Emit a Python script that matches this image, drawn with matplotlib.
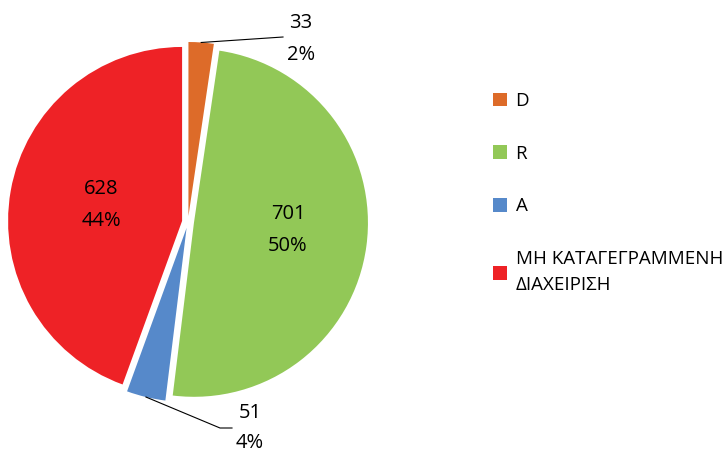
import matplotlib
matplotlib.use("Agg")
import matplotlib.pyplot as plt
import numpy as np

categories = ["D", "R", "A", "ΜΗ ΚΑΤΑΓΕΓΡΑΜΜΕΝΗ\nΔΙΑΧΕΙΡΙΣΗ"]
values = [33, 701, 51, 628]
colors = ["#DD6B29", "#92C857", "#5689CA", "#EE2226"]

plt.rcParams['font.family'] = ['Open Sans', 'DejaVu Sans']

W, H = 723, 454
fig = plt.figure(figsize=(W / 100, H / 100), dpi=100)
ax = fig.add_axes([0, 0, 1, 1])

cx, cy, R = 188, H - 222, 174
wedges, _ = ax.pie(values, colors=colors, startangle=90, counterclock=False,
                   explode=[6] * 4, center=(cx, cy), radius=R,
                   wedgeprops=dict(linewidth=0))
ax.set_xlim(0, W)
ax.set_ylim(0, H)
ax.set_aspect('equal')
ax.axis('off')

total = sum(values)
pct = [f"{round(v / total * 100)}%" for v in values]
fs = 14.5
ls = 1.75

def arc_mid(w):
    a = np.deg2rad((w.theta1 + w.theta2) / 2)
    c = w.center
    return c[0] + w.r * np.cos(a), c[1] + w.r * np.sin(a)

# inside labels
ax.text(288, H - 230, f"{values[1]}\n{pct[1]}", ha='center', va='center',
        fontsize=fs, linespacing=ls)
ax.text(101, H - 205, f"{values[3]}\n{pct[3]}", ha='center', va='center',
        fontsize=fs, linespacing=ls)

# outside labels with leader lines
x0, y0 = arc_mid(wedges[0])
ax.plot([x0, 283], [y0, H - 37], color='black', lw=0.8)
ax.text(301, H - 39, f"{values[0]}\n{pct[0]}", ha='center', va='center',
        fontsize=fs, linespacing=ls)

x2, y2 = arc_mid(wedges[2])
ax.plot([x2, 220, 232], [y2, H - 428, H - 428], color='black', lw=0.8)
ax.text(250, H - 428, f"{values[2]}\n{pct[2]}", ha='center', va='center',
        fontsize=fs, linespacing=1.7)

leg = ax.legend(wedges, categories, loc='upper left', bbox_to_anchor=(493 / W, 1 - 92 / H),
                bbox_transform=fig.transFigure, frameon=False, fontsize=13.5,
                handlelength=0.75, handleheight=0.75, handletextpad=0.45,
                labelspacing=1.85, borderpad=0, borderaxespad=0)
for t in leg.get_texts():
    t.set_linespacing(1.6)

fig.savefig("out.png", dpi=100)
